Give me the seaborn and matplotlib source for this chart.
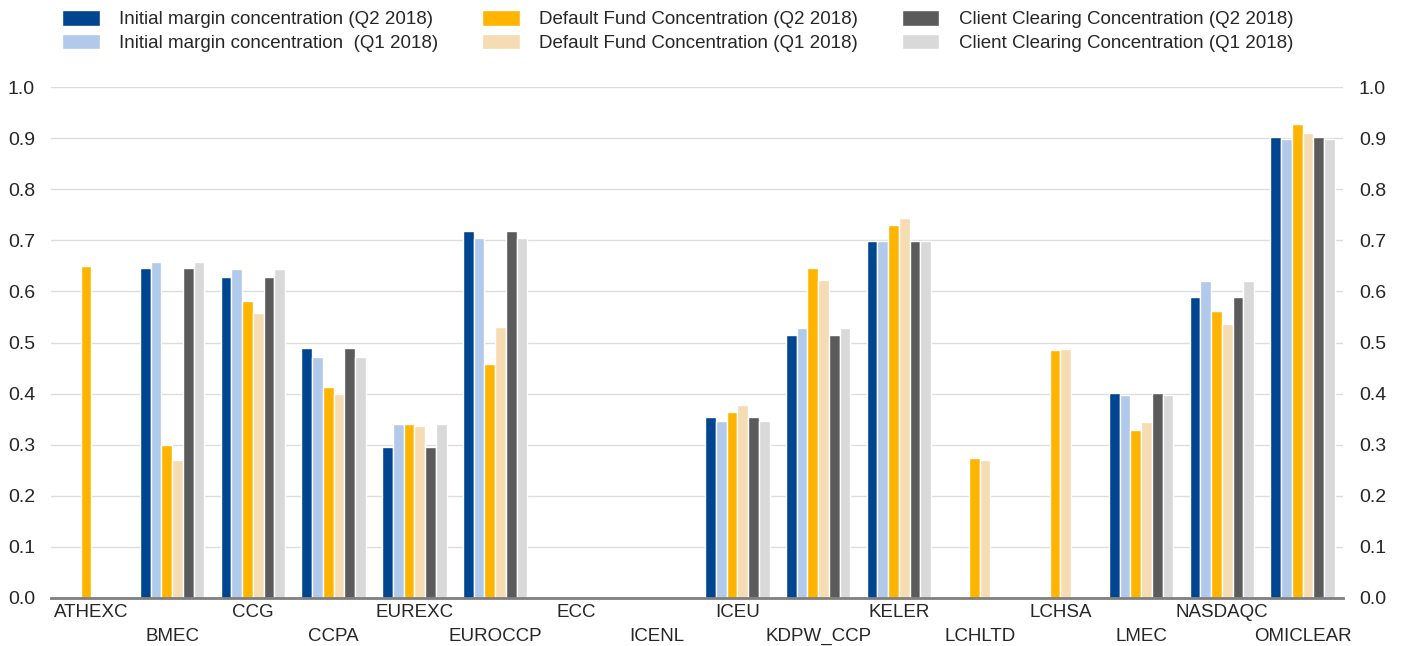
import numpy as np
import pandas as pd
import seaborn as sns
import matplotlib
matplotlib.use("Agg")
import matplotlib.pyplot as plt

nan = np.nan

# CCPs on the x axis
ccps = ['ATHEXC', 'BMEC', 'CCG', 'CCPA', 'EUREXC', 'EUROCCP', 'ECC', 'ICENL',
        'ICEU', 'KDPW_CCP', 'KELER', 'LCHLTD', 'LCHSA', 'LMEC', 'NASDAQC', 'OMICLEAR']

# values
im_q2 = [nan, 0.645, 0.628, 0.490, 0.295, 0.718, nan, nan,
         0.355, 0.514, 0.699, nan, nan, 0.402, 0.590, 0.903]
im_q1 = [nan, 0.658, 0.644, 0.472, 0.340, 0.705, nan, nan,
         0.347, 0.529, 0.699, nan, nan, 0.397, 0.620, 0.898]
df_q2 = [0.649, 0.299, 0.582, 0.412, 0.340, 0.458, nan, nan,
         0.364, 0.645, 0.729, 0.273, 0.486, 0.328, 0.561, 0.928]
df_q1 = [nan, 0.271, 0.558, 0.399, 0.336, 0.531, nan, nan,
         0.377, 0.622, 0.743, 0.270, 0.488, 0.345, 0.537, 0.910]
cc_q2 = [nan, 0.645, 0.628, 0.490, 0.295, 0.718, nan, nan,
         0.355, 0.514, 0.699, nan, nan, 0.402, 0.590, 0.903]
cc_q1 = [nan, 0.658, 0.644, 0.472, 0.340, 0.705, nan, nan,
         0.347, 0.529, 0.699, nan, nan, 0.397, 0.620, 0.898]

series_names = ['Initial margin concentration (Q2 2018)',
                'Initial margin concentration  (Q1 2018)',
                'Default Fund Concentration (Q2 2018)',
                'Default Fund Concentration (Q1 2018)',
                'Client Clearing Concentration (Q2 2018)',
                'Client Clearing Concentration (Q1 2018)']
colors = ['#00458f', '#b1c9eb', '#ffb400', '#f5dcb3', '#5b5b5b', '#d9d9d9']

rows = []
for name, vals in zip(series_names, [im_q2, im_q1, df_q2, df_q1, cc_q2, cc_q1]):
    for c, v in zip(ccps, vals):
        rows.append({'ccp': c, 'value': v, 'series': name})
df = pd.DataFrame(rows)

sns.set_style('white')
plt.rcParams['font.family'] = ['Liberation Sans', 'DejaVu Sans']

fig = plt.figure(figsize=(14.01, 6.46), dpi=100)
ax = fig.add_axes([51 / 1401, 1 - 598 / 646, 1292 / 1401, 511 / 646])

sns.barplot(data=df, x='ccp', y='value', hue='series', order=ccps,
            hue_order=series_names, palette=colors, saturation=1,
            width=0.8, edgecolor='white', linewidth=1, ax=ax)

ax.set_xlim(-0.5, len(ccps) - 0.5)
ax.set_ylim(0, 1.0)
ax.set_yticks(np.arange(0, 1.01, 0.1))
ax.set_yticklabels([f'{t:.1f}' for t in np.arange(0, 1.01, 0.1)])
ax.yaxis.grid(True, color='#dddddd', linewidth=1)
ax.set_axisbelow(True)
ax.set_xlabel('')
ax.set_ylabel('')

ax.set_xticks(range(len(ccps)))
ax.set_xticklabels(ccps)

for s in ['top', 'left', 'right']:
    ax.spines[s].set_visible(False)
ax.spines['bottom'].set_color('#7f7f7f')
ax.spines['bottom'].set_linewidth(2)

ax.tick_params(axis='y', left=False, right=False, labelleft=True, labelright=True,
               labelsize=14, pad=8)
ax.tick_params(axis='x', direction='in', length=3, color='#cccccc',
               labelsize=13.5, pad=4)

# staggered category labels: every second one sits a row lower
for i, tick in enumerate(ax.xaxis.get_major_ticks()):
    if i % 2 == 1:
        tick.set_pad(21.5)

handles, labels = ax.get_legend_handles_labels()
ax.get_legend().remove()
fig.legend(handles, labels, ncol=3, loc='upper left',
           bbox_to_anchor=(62 / 1401, 1 - 10 / 646), frameon=False,
           fontsize=13.5, handlelength=2.0, handleheight=0.9,
           handletextpad=1.05, columnspacing=2.33, labelspacing=0.3,
           borderpad=0, borderaxespad=0)

fig.savefig('out.png', dpi=100)
